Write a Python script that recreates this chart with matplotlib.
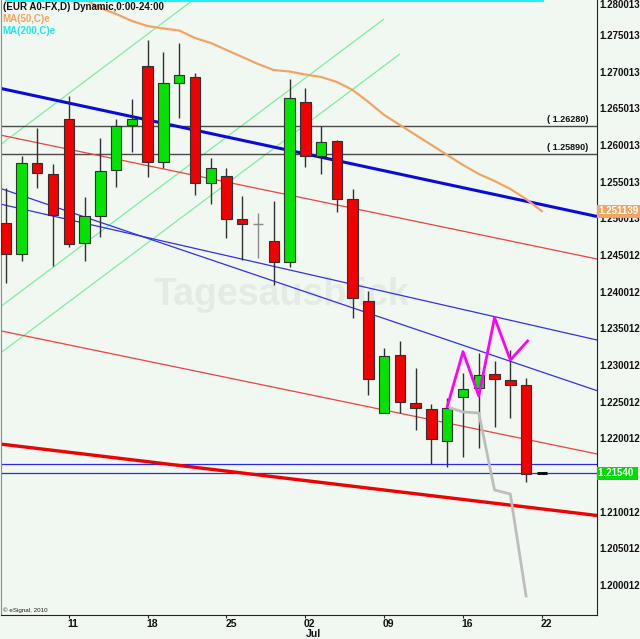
import matplotlib
matplotlib.use("Agg")
import matplotlib.pyplot as plt
from matplotlib.patches import Rectangle
import matplotlib.transforms as mtransforms

# ---------------- data ----------------
bar_index = list(range(35))
opens = [1.24949, 1.24530, 1.25767, 1.25625, 1.26371, 1.24684, 1.25053, 1.25672, 1.26285, 1.27094,
         1.25781, 1.26866, 1.26940, 1.25494, 1.25594, 1.25003, 1.24935, 1.24703, 1.24425, 1.26607,
         1.25867, 1.26071, 1.25276, 1.23893, 1.22358, 1.23157, 1.22498, 1.22421, 1.21976, 1.22576,
         1.22699, 1.22890, 1.22808, 1.22740, 1.21540]
highs = [1.25430, 1.25867, 1.26253, 1.25758, 1.26685, 1.25312, 1.26116, 1.26371, 1.26644, 1.27449,
         1.27289, 1.27412, 1.27003, 1.25843, 1.25699, 1.25321, 1.25093, 1.25257, 1.26913, 1.26790,
         1.26276, 1.26085, 1.25413, 1.24030, 1.23252, 1.23344, 1.22972, 1.22485, 1.22571, 1.22903,
         1.23184, 1.23071, 1.23221, 1.22835, 1.21540]
lows = [1.24135, 1.24439, 1.25426, 1.24367, 1.24630, 1.24439, 1.24766, 1.25440, 1.25925, 1.25584,
        1.25699, 1.26381, 1.25335, 1.25212, 1.24744, 1.24448, 1.24472, 1.24108, 1.24357, 1.25713,
        1.25617, 1.25099, 1.23662, 1.22607, 1.22358, 1.22358, 1.22130, 1.21666, 1.21621, 1.21758,
        1.21889, 1.22175, 1.22298, 1.21425, 1.21540]
closes = [1.24526, 1.25775, 1.25639, 1.25062, 1.24667, 1.25048, 1.25658, 1.26272, 1.26367, 1.25789,
          1.26858, 1.26967, 1.25494, 1.25699, 1.25003, 1.24935, 1.24935, 1.24417, 1.26654, 1.25867,
          1.26053, 1.25276, 1.23926, 1.22830, 1.23135, 1.22512, 1.22426, 1.22003, 1.22434, 1.22689,
          1.22876, 1.22822, 1.22740, 1.21534, 1.21540]
ma50 = [1.28550, 1.28450, 1.28340, 1.28230, 1.28120, 1.28008, 1.27885, 1.27803, 1.27708, 1.27639,
        1.27605, 1.27578, 1.27476, 1.27408, 1.27312, 1.27217, 1.27121, 1.27039, 1.27019, 1.26978,
        1.26944, 1.26876, 1.26767, 1.26603, 1.26426, 1.26289, 1.26153, 1.26017, 1.25880, 1.25744,
        1.25621, 1.25526, 1.25417, 1.25280, 1.25114]
ma200 = [1.27990, 1.27990, 1.27990, 1.27990, 1.27990, 1.27990, 1.27990, 1.27990, 1.27990, 1.27990,
         1.27990, 1.27990, 1.27990, 1.27990, 1.27990, 1.27990, 1.27990, 1.27990, 1.27990, 1.27990,
         1.27990, 1.27990, 1.27990, 1.27990, 1.27990, 1.27990, 1.27990, 1.27990, 1.27990, 1.27990,
         1.27990, 1.27990, 1.27990, 1.27990, 1.27990]

# trend lines: (x0, y0, x1, y1) in bar-index / price
blue_thick = (-0.36, 1.26790, 37.5, 1.25042)
blue_thin_a = (-0.36, 1.25426, 37.5, 1.22666)
blue_thin_b = (-0.36, 1.25212, 37.5, 1.23357)
red_thin_a = (-0.36, 1.26153, 37.5, 1.24462)
red_thin_b = (-0.36, 1.23484, 37.5, 1.21803)
red_thick = (-0.36, 1.21939, 37.5, 1.20964)
green_lines = [(-0.36, 1.26017, 11.88, 1.27994),
               (-0.36, 1.23807, 23.99, 1.27735),
               (-0.36, 1.23176, 25.00, 1.27258)]
level_lines = [1.26280, 1.25890]
level_labels = ["( 1.26280)", "( 1.25890)"]
support_lines = [1.21666, 1.21540]

zigzag_x = [28, 29, 30, 31, 32, 33.1]
zigzag_y = [1.22448, 1.23198, 1.22594, 1.23662, 1.23085, 1.23344]
proj_x = [28.2, 29, 30, 31, 32, 33]
proj_y = [1.22430, 1.22376, 1.22362, 1.21312, 1.21257, 1.19866]

# (1.215012 sits under the last-price box in the reference, so it is not printed)
ytick_values = [1.280013, 1.275013, 1.270013, 1.265013, 1.260013, 1.255013, 1.250013, 1.245012,
                1.240012, 1.235012, 1.230012, 1.225012, 1.220012, 1.210012, 1.205012, 1.200012]
xtick_pos = [4, 9, 14, 19, 24, 29, 34]
xtick_labels = ["11", "18", "25", "02", "09", "16", "22"]
month_label = ("Jul", 19)

# ---------------- figure ----------------
BG = "#F1F7F1"
plt.rcParams["font.family"] = ["Liberation Sans", "DejaVu Sans"]
fig = plt.figure(figsize=(6.40, 6.39), dpi=100, facecolor=BG)
ax = fig.add_axes([0.0016, 0.03756, 0.93125, 0.96244], facecolor=BG)
ax.set_xlim(-0.3, 37.5)
ax.set_ylim(1.19607, 1.27994)

ax.spines["top"].set_visible(False)
ax.spines["left"].set_color("#8a8a8a")
ax.spines["bottom"].set_color("#222222")
ax.spines["right"].set_color("#222222")
ax.set_yticks([])
ax.set_xticks(xtick_pos)
ax.tick_params(axis="x", length=2.5, direction="out", color="#222222", labelbottom=False)


def seg(t, **kw):
    ax.plot([t[0], t[2]], [t[1], t[3]], solid_capstyle="butt", **kw)


# green channel lines
for g in green_lines:
    seg(g, color="#7CF09A", lw=0.9, zorder=2)

# horizontal levels
for lv, lab in zip(level_lines, level_labels):
    ax.axhline(lv, color="#4a4a4a", lw=1.0, zorder=2)
    ax.annotate(lab, xy=(0.985, lv), xycoords=("axes fraction", "data"), xytext=(0, 1.5),
                textcoords="offset points", ha="right", va="bottom", fontsize=6.5, color="#111111",
                fontweight="bold")

for sl in support_lines:
    ax.axhline(sl, color="#2a2ae8", lw=0.9, zorder=2)

seg(red_thin_a, color="#F04040", lw=0.9, zorder=2)
seg(red_thin_b, color="#F04040", lw=0.9, zorder=2)
seg(red_thick, color="#F00000", lw=2.4, zorder=2)
seg(blue_thin_a, color="#3030F0", lw=0.9, zorder=2)
seg(blue_thin_b, color="#3030F0", lw=0.9, zorder=2)
seg(blue_thick, color="#0A0AE0", lw=2.2, zorder=2)

# moving averages
ax.plot(bar_index, ma50, color="#F4A460", lw=1.6, zorder=3)
ax.plot(bar_index, ma200, color="#22EEEE", lw=2.0, zorder=3)

# watermark
ax.text(0.47, 0.52, "Tagesausblick", transform=ax.transAxes, fontsize=27, fontweight="bold",
        color="#E4EAE4", ha="center", va="center", zorder=1.5)

# candles
for i, o, h, l, c in zip(bar_index, opens, highs, lows, closes):
    if c > o:
        fc = "#00E400"
        wc = "#303030"
    elif c < o:
        fc = "#F00000"
        wc = "#303030"
    else:
        fc = None
        wc = "#8a8a8a" if h > l else "#111111"
    if h > l:
        ax.vlines(i, l, h, color=wc, lw=1.0, zorder=4)
    if fc is None:
        ax.hlines(o, i - 0.33, i + 0.33, color=wc, lw=1.0 if h > l else 2.2, zorder=5)
    else:
        ax.add_patch(Rectangle((i - 0.33, min(o, c)), 0.66, abs(c - o), facecolor=fc,
                               edgecolor="#303030", lw=0.8, zorder=5))

# projection lines
ax.plot(proj_x, proj_y, color="#BDBDBD", lw=2.0, zorder=6)
ax.plot(zigzag_x, zigzag_y, color="#FF00FF", lw=2.0, zorder=7)

# y labels on the right
btrans = mtransforms.blended_transform_factory(ax.transAxes, ax.transData)
ytop = ax.get_ylim()[1]
for v in ytick_values:
    if v > ytop:
        ax.text(1.004, ytop, f"{v:.6f}", transform=btrans, ha="left", va="top", fontsize=7,
                fontweight="bold", color="#111111", clip_on=False)
    else:
        ax.text(1.004, v, f"{v:.6f}", transform=btrans, ha="left", va="center", fontsize=7,
                fontweight="bold", color="#111111", clip_on=False)

ax.text(1.002, ma50[-1], "1.251139", transform=btrans, ha="left", va="center", fontsize=7,
        fontweight="bold", color="white", clip_on=False, zorder=10,
        bbox=dict(facecolor="#F4A460", edgecolor="none", pad=1.2))
ax.text(1.002, closes[-1], "1.21540 ", transform=btrans, ha="left", va="center", fontsize=7,
        fontweight="bold", color="white", clip_on=False, zorder=10,
        bbox=dict(facecolor="#00DD00", edgecolor="none", pad=1.2))

# x labels
for p, lab in zip(xtick_pos, xtick_labels):
    ax.annotate(lab, xy=(p, 0), xycoords=("data", "axes fraction"), xytext=(3.2, -3.2),
                textcoords="offset points", ha="center", va="top", fontsize=7.5,
                fontweight="bold", color="#111111", annotation_clip=False)
ax.annotate(month_label[0], xy=(month_label[1], 0), xycoords=("data", "axes fraction"),
            xytext=(5.5, -10.3), textcoords="offset points", ha="center", va="top", fontsize=7.5,
            fontweight="bold", color="#111111", annotation_clip=False)

# header texts
ax.text(0.003, 0.997, "(EUR A0-FX,D) Dynamic,0:00-24:00", transform=ax.transAxes, ha="left",
        va="top", fontsize=7, fontweight="bold", color="#111111", zorder=10)
ax.text(0.003, 0.978, "MA(50,C)e", transform=ax.transAxes, ha="left", va="top", fontsize=7,
        fontweight="bold", color="#F4A460", zorder=10)
ax.text(0.003, 0.957, "MA(200,C)e", transform=ax.transAxes, ha="left", va="top", fontsize=7,
        fontweight="bold", color="#22E5E5", zorder=10)
ax.text(0.004, 0.004, "\u00a9 eSignal, 2010", transform=ax.transAxes, ha="left", va="bottom",
        fontsize=4.5, color="#222222", zorder=10)

fig.savefig("out.png", dpi=100, facecolor=BG)
